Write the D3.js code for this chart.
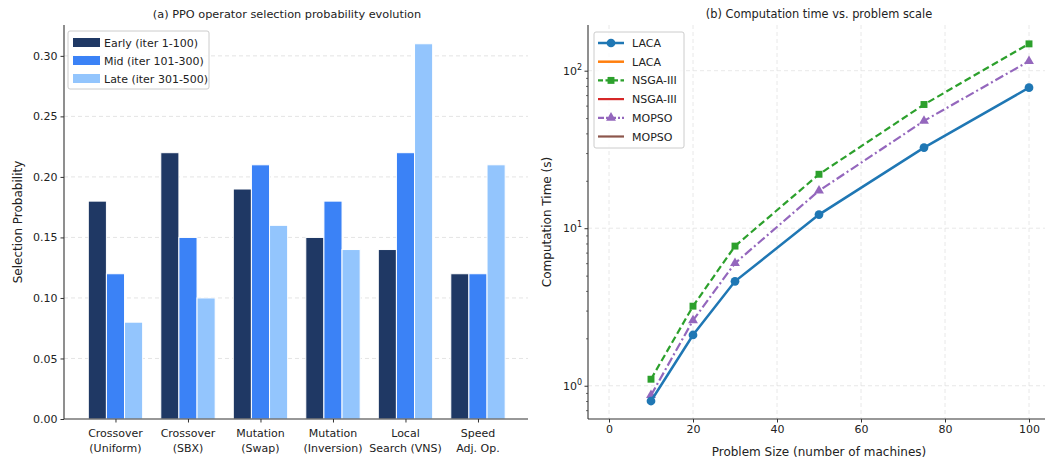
<!DOCTYPE html>
<html>
<head>
<meta charset="utf-8">
<script src="https://cdn.jsdelivr.net/npm/d3@7"></script>
<style>
  body { margin: 0; background: #fff; }
  svg text { font-family: "DejaVu Sans", sans-serif; fill: #222; }
</style>
</head>
<body>
<div id="chart"></div>
<script>
// ---- data ----
var operators = [["Crossover", "(Uniform)"], ["Crossover", "(SBX)"], ["Mutation", "(Swap)"],
                 ["Mutation", "(Inversion)"], ["Local", "Search (VNS)"], ["Speed", "Adj. Op."]];
var phases = ["Early (iter 1-100)", "Mid (iter 101-300)", "Late (iter 301-500)"];
var early = [0.18, 0.22, 0.19, 0.15, 0.14, 0.12];
var mid   = [0.12, 0.15, 0.21, 0.18, 0.22, 0.12];
var late  = [0.08, 0.10, 0.16, 0.14, 0.31, 0.21];
var probTicks = [0, 0.05, 0.10, 0.15, 0.20, 0.25, 0.30];

var sizes = [10, 20, 30, 50, 75, 100];
var laca  = [0.8, 2.1, 4.6, 12.2, 32.5, 78];
var nsga  = [1.1, 3.2, 7.7, 22, 61, 148];
var mopso = [0.87, 2.6, 6.0, 17.3, 48, 115];
var sizeTicks = [0, 20, 40, 60, 80, 100];
var legendNames = ["LACA", "LACA", "NSGA-III", "NSGA-III", "MOPSO", "MOPSO"];

var W = 1045, H = 462;
var svg = d3.select("#chart").append("svg").attr("width", W).attr("height", H);
var spine = "#333";

// ================= (a) grouped bars =================
var a = {left: 64, right: 528, top: 25, bottom: 419};
var barColors = ["#1f3864", "#3b82f6", "#93c5fd"];
var series = [early, mid, late];

var xa = d3.scaleLinear().domain([-0.71, 5.69]).range([a.left, a.right]);
var ya = d3.scaleLinear().domain([0, 0.3255]).range([a.bottom, a.top]);
var bw = 0.25;

var ga = svg.append("g");
// grid
ga.selectAll(".gy").data(probTicks.slice(1)).enter().append("line")
    .attr("x1", a.left).attr("x2", a.right)
    .attr("y1", function(d) { return ya(d); }).attr("y2", function(d) { return ya(d); })
    .attr("stroke", "#ddd").attr("stroke-dasharray", "4,3").attr("stroke-width", 0.8);

series.forEach(function(vals, s) {
  ga.selectAll(".bar" + s).data(vals).enter().append("rect")
    .attr("x", function(d, i) { return xa(i + (s - 1) * bw - bw / 2); })
    .attr("width", xa(bw) - xa(0))
    .attr("y", function(d) { return ya(d); })
    .attr("height", function(d) { return ya(0) - ya(d); })
    .attr("fill", barColors[s]).attr("stroke", "#fff").attr("stroke-width", 1);
});

// y axis
var yAxisA = ga.append("g").attr("transform", "translate(" + a.left + ",0)")
    .call(d3.axisLeft(ya).tickValues(probTicks).tickFormat(d3.format(".2f")).tickSizeOuter(0).tickSize(3.5).tickPadding(3));
// x axis
var xAxisA = ga.append("g").attr("transform", "translate(0," + a.bottom + ")")
    .call(d3.axisBottom(xa).tickValues(d3.range(operators.length)).tickFormat("").tickSizeOuter(0).tickSize(3.5));
[yAxisA, xAxisA].forEach(function(ax) {
  ax.select(".domain").attr("stroke", spine).attr("stroke-width", 1.1);
  ax.selectAll(".tick line").attr("stroke", spine);
  ax.selectAll("text").style("font-size", "11px").attr("fill", "#222");
});
xAxisA.select(".domain").attr("d", "M" + a.left + ",0H" + a.right);
yAxisA.select(".domain").attr("d", "M0," + a.bottom + "V" + a.top);

operators.forEach(function(lines, i) {
  var t = ga.append("text").attr("x", xa(i)).attr("y", 437).attr("text-anchor", "middle")
      .style("font-size", "11px");
  t.append("tspan").attr("x", xa(i)).text(lines[0]);
  t.append("tspan").attr("x", xa(i)).attr("dy", 15).text(lines[1]);
});

ga.append("text").attr("transform", "translate(22," + ((a.top + a.bottom) / 2) + ") rotate(-90)")
    .attr("text-anchor", "middle").style("font-size", "12px").text("Selection Probability");
ga.append("text").attr("x", 287).attr("y", 18).attr("text-anchor", "middle")
    .style("font-size", "11.3px").text("(a) PPO operator selection probability evolution");

// legend
var lgA = ga.append("g").attr("transform", "translate(68,31)");
lgA.append("rect").attr("width", 141).attr("height", 58).attr("rx", 2)
    .attr("fill", "#fff").attr("fill-opacity", 0.8).attr("stroke", "#ccc");
phases.forEach(function(p, i) {
  lgA.append("rect").attr("x", 5).attr("y", 7 + i * 18).attr("width", 27).attr("height", 9).attr("fill", barColors[i]);
  lgA.append("text").attr("x", 36).attr("y", 15.5 + i * 18).style("font-size", "11px").text(p);
});

// ================= (b) computation time =================
var b = {left: 588, right: 1050, top: 25, bottom: 419};
var xb = d3.scaleLinear().domain([-5, 105]).range([b.left, b.right]);
var yb = d3.scaleLog().domain([0.615, 195]).range([b.bottom, b.top]);
var gb = svg.append("g");

gb.selectAll(".gx").data(sizeTicks).enter().append("line")
    .attr("x1", function(d) { return xb(d); }).attr("x2", function(d) { return xb(d); })
    .attr("y1", b.top).attr("y2", b.bottom)
    .attr("stroke", "#e2e2e2").attr("stroke-dasharray", "4,3").attr("stroke-width", 0.8);
gb.selectAll(".gyb").data([1, 10, 100]).enter().append("line")
    .attr("x1", b.left).attr("x2", b.right)
    .attr("y1", function(d) { return yb(d); }).attr("y2", function(d) { return yb(d); })
    .attr("stroke", "#e2e2e2").attr("stroke-dasharray", "4,3").attr("stroke-width", 0.8);

var lineGen = d3.line().x(function(d, i) { return xb(sizes[i]); }).y(function(d) { return yb(d); });

var styles = [
  {vals: laca,  color: "#1f77b4", dash: null,      width: 2.5, marker: "circle"},
  {vals: nsga,  color: "#2ca02c", dash: "7,3.5",   width: 2.2, marker: "square"},
  {vals: mopso, color: "#9467bd", dash: "9,3,2,3", width: 2.2, marker: "triangle"}
];
var symbols = {circle: d3.symbolCircle, square: d3.symbolSquare, triangle: d3.symbolTriangle};
var symSize = {circle: 60, square: 48, triangle: 42};

styles.slice().reverse().forEach(function(s) {
  gb.append("path").datum(s.vals).attr("d", lineGen).attr("fill", "none")
    .attr("stroke", s.color).attr("stroke-width", s.width)
    .attr("stroke-dasharray", s.dash);
  gb.selectAll(null).data(s.vals).enter().append("path")
    .attr("transform", function(d, i) { return "translate(" + xb(sizes[i]) + "," + yb(d) + ")"; })
    .attr("d", d3.symbol().type(symbols[s.marker]).size(symSize[s.marker]))
    .attr("fill", s.color);
});

var xAxisB = gb.append("g").attr("transform", "translate(0," + b.bottom + ")")
    .call(d3.axisBottom(xb).tickValues(sizeTicks).tickFormat(d3.format("d")).tickSizeOuter(0).tickSize(3.5).tickPadding(3));
var minorVals = [];
[0.1, 1, 10, 100].forEach(function(dec) {
  for (var k = 2; k <= 9; k++) {
    var v = dec * k;
    if (v > 0.615 && v < 195) minorVals.push(v);
  }
});
var yAxisB = gb.append("g").attr("transform", "translate(" + b.left + ",0)")
    .call(d3.axisLeft(yb).tickValues([1, 10, 100]).tickFormat("").tickSizeOuter(0).tickSize(3.5));
gb.append("g").attr("transform", "translate(" + b.left + ",0)")
    .call(d3.axisLeft(yb).tickValues(minorVals).tickFormat("").tickSizeOuter(0).tickSize(2))
    .call(function(g) { g.select(".domain").remove(); g.selectAll("line").attr("stroke", spine).attr("stroke-width", 0.7); });
[xAxisB, yAxisB].forEach(function(ax) {
  ax.select(".domain").attr("stroke", spine).attr("stroke-width", 1.1);
  ax.selectAll(".tick line").attr("stroke", spine);
  ax.selectAll("text").style("font-size", "11px").attr("fill", "#222");
});
xAxisB.select(".domain").attr("d", "M" + b.left + ",0H" + b.right);
yAxisB.select(".domain").attr("d", "M0," + b.bottom + "V" + b.top);

[0, 1, 2].forEach(function(e) {
  var t = gb.append("text").attr("x", b.left - 6).attr("y", yb(Math.pow(10, e)) + 4)
      .attr("text-anchor", "end").style("font-size", "11px");
  t.append("tspan").text("10");
  t.append("tspan").attr("dy", -5).style("font-size", "8px").text(e);
});

gb.append("text").attr("transform", "translate(551," + ((b.top + b.bottom) / 2) + ") rotate(-90)")
    .attr("text-anchor", "middle").style("font-size", "12px").text("Computation Time (s)");
gb.append("text").attr("x", (b.left + b.right) / 2).attr("y", 456).attr("text-anchor", "middle")
    .style("font-size", "12px").text("Problem Size (number of machines)");
gb.append("text").attr("x", (b.left + b.right) / 2).attr("y", 18).attr("text-anchor", "middle")
    .style("font-size", "11.4px").text("(b) Computation time vs. problem scale");

// legend
var legendStyles = [
  {color: "#1f77b4", dash: null, width: 2.5, marker: "circle"},
  {color: "#ff7f0e", dash: null, width: 2.5, marker: null},
  {color: "#2ca02c", dash: "5,2.5", width: 2.2, marker: "square"},
  {color: "#d62728", dash: null, width: 2.2, marker: null},
  {color: "#9467bd", dash: "6,2,2,2", width: 2.2, marker: "triangle"},
  {color: "#8c564b", dash: null, width: 2.2, marker: null}
];
var lgB = gb.append("g").attr("transform", "translate(594,32)");
lgB.append("rect").attr("width", 90).attr("height", 116).attr("rx", 2)
    .attr("fill", "#fff").attr("fill-opacity", 0.8).attr("stroke", "#ccc");
legendNames.forEach(function(n, i) {
  var s = legendStyles[i], yy = 11 + i * 18.7;
  lgB.append("line").attr("x1", 4).attr("x2", 30).attr("y1", yy).attr("y2", yy)
    .attr("stroke", s.color).attr("stroke-width", s.width).attr("stroke-dasharray", s.dash);
  if (s.marker) {
    lgB.append("path").attr("transform", "translate(17," + yy + ")")
      .attr("d", d3.symbol().type(symbols[s.marker]).size(symSize[s.marker])).attr("fill", s.color);
  }
  lgB.append("text").attr("x", 38).attr("y", yy + 4).style("font-size", "11px").text(n);
});
</script>
</body>
</html>
